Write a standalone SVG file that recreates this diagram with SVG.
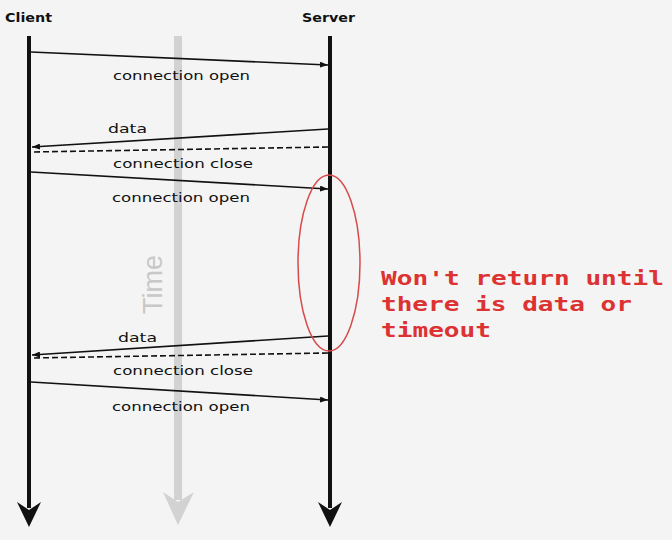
<svg xmlns="http://www.w3.org/2000/svg" width="672" height="552" viewBox="0 0 672 552">
<style>
.hdr{font-family:"DejaVu Sans","Liberation Sans",sans-serif;font-size:13px;font-weight:bold;fill:#111}
.lbl{font-family:"DejaVu Sans","Liberation Sans",sans-serif;font-size:13px;fill:#111}
.msg{stroke:#111;stroke-width:1.6;fill:none}
.dash{stroke-dasharray:6 3}
.life{stroke:#111;stroke-width:4}
.note{font-family:"DejaVu Sans Mono","Liberation Mono",monospace;font-size:19px;font-weight:bold;fill:#dc3232}
</style>
<defs>
<marker id="tip" viewBox="0 0 8 6" refX="8" refY="3" markerWidth="8" markerHeight="6" orient="auto" markerUnits="userSpaceOnUse">
<path d="M0,0 L8,3 L0,6 z" fill="#111"/>
</marker>
</defs>
<rect width="672" height="552" fill="#f4f4f4"/>
<rect x="0" y="540" width="672" height="12" fill="#ffffff"/>
<g id="time">
<line x1="178" y1="36" x2="178" y2="500" stroke="#d2d2d2" stroke-width="8"/>
<path d="M163,492 L178,525 L194,492 L178,502 z" fill="#d2d2d2"/>
<text x="0" y="0" transform="translate(162,314) rotate(-90)" font-family="'Liberation Sans',sans-serif" font-size="27" fill="#c8c8c8">Time</text>
</g>
<g id="client">
<text class="hdr" x="5" y="22" textLength="47" lengthAdjust="spacingAndGlyphs">Client</text>
<line class="life" x1="29" y1="36" x2="29" y2="508"/>
<path d="M17,502 L29,527 L41,502 L29,510 z" fill="#111"/>
</g>
<g id="server">
<text class="hdr" x="302" y="22" textLength="53" lengthAdjust="spacingAndGlyphs">Server</text>
<line class="life" x1="330" y1="36" x2="330" y2="508"/>
<path d="M318,502 L330,527 L342,502 L330,510 z" fill="#111"/>
</g>
<g id="connectors">
<line class="msg" x1="31" y1="52" x2="328" y2="65" marker-end="url(#tip)"/>
<line class="msg" x1="328" y1="129" x2="32" y2="147" marker-end="url(#tip)"/>
<line class="msg dash" x1="328" y1="147" x2="32" y2="152"/>
<line class="msg" x1="31" y1="172" x2="328" y2="189" marker-end="url(#tip)"/>
<line class="msg" x1="328" y1="336" x2="32" y2="355" marker-end="url(#tip)"/>
<line class="msg dash" x1="328" y1="353" x2="32" y2="358"/>
<line class="msg" x1="31" y1="382" x2="328" y2="400" marker-end="url(#tip)"/>
</g>
<g id="labels">
<text class="lbl" x="113" y="80" textLength="137" lengthAdjust="spacingAndGlyphs">connection open</text>
<text class="lbl" x="108" y="133" textLength="39" lengthAdjust="spacingAndGlyphs">data</text>
<text class="lbl" x="113" y="168" textLength="140" lengthAdjust="spacingAndGlyphs">connection close</text>
<text class="lbl" x="112" y="202" textLength="138" lengthAdjust="spacingAndGlyphs">connection open</text>
<text class="lbl" x="118" y="342" textLength="39" lengthAdjust="spacingAndGlyphs">data</text>
<text class="lbl" x="113" y="375" textLength="140" lengthAdjust="spacingAndGlyphs">connection close</text>
<text class="lbl" x="112" y="411" textLength="138" lengthAdjust="spacingAndGlyphs">connection open</text>
</g>
<g id="note">
<ellipse cx="329" cy="263" rx="31" ry="88" fill="none" stroke="#d84a4a" stroke-width="1.5"/>
<text class="note" x="381" y="285" textLength="283" lengthAdjust="spacingAndGlyphs">Won't return until</text>
<text class="note" x="381" y="311" textLength="251" lengthAdjust="spacingAndGlyphs">there is data or</text>
<text class="note" x="381" y="337" textLength="110" lengthAdjust="spacingAndGlyphs">timeout</text>
</g>
</svg>
